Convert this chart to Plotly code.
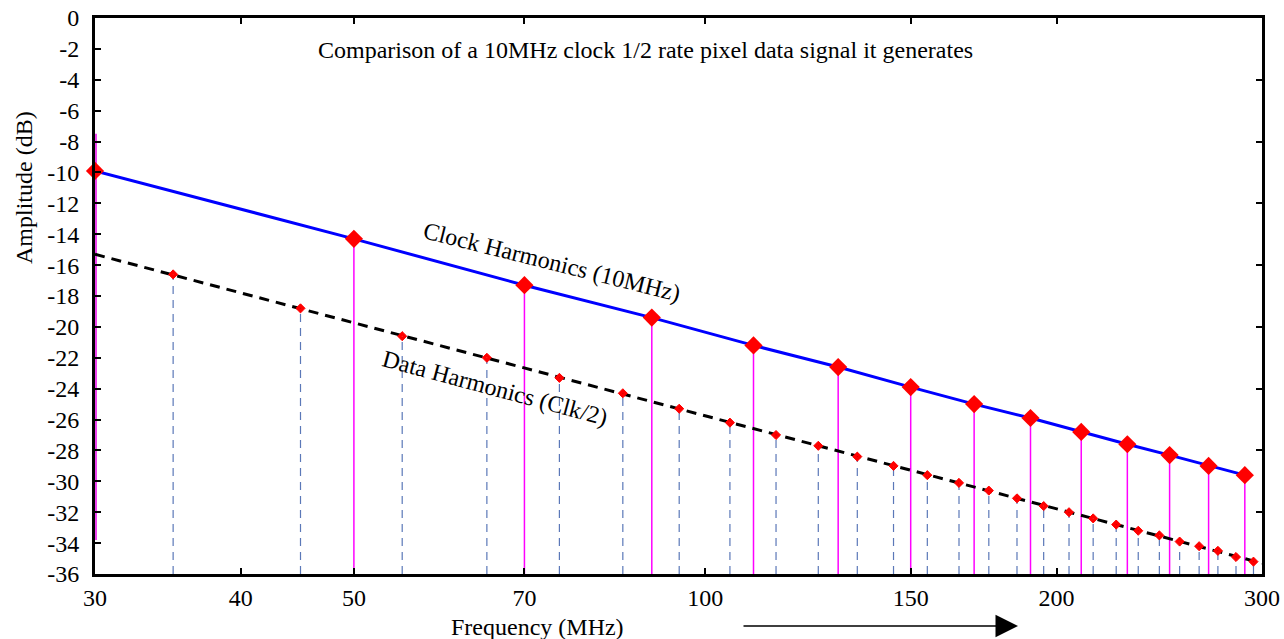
import plotly.graph_objects as go
import math

# ---- data ----
clock_freq = [30, 50, 70, 90, 110, 130, 150, 170, 190, 210, 230, 250, 270, 290]
clock_amp = [-9.9, -14.3, -17.3, -19.4, -21.2, -22.6, -23.9, -25.0, -25.9, -26.8, -27.6, -28.3, -29.0, -29.6]

data_freq = [35, 45, 55, 65, 75, 85, 95, 105, 115, 125, 135, 145, 155, 165, 175,
             185, 195, 205, 215, 225, 235, 245, 255, 265, 275, 285, 295]
data_amp = [-16.6, -18.8, -20.6, -22.0, -23.3, -24.3, -25.3, -26.2, -27.0, -27.7, -28.4,
            -29.0, -29.6, -30.1, -30.6, -31.1, -31.6, -32.0, -32.4, -32.8, -33.2, -33.5,
            -33.9, -34.2, -34.5, -34.9, -35.2]

data_line_freq = [30, 300]
data_line_amp = [-15.3, -35.3]

fund_stem_freq = [30, 30]
fund_stem_amp = [-7.5, -33.8]

floor_db = -36

x_tickvals = [30, 40, 50, 70, 100, 150, 200, 300]
x_ticktext = ["30", "40", "50", "70", "100", "150", "200", "300"]
y_tickvals = [0, -2, -4, -6, -8, -10, -12, -14, -16, -18, -20, -22, -24, -26, -28, -30, -32, -34, -36]
y_ticktext = ["0", "-2", "-4", "-6", "-8", "-10", "-12", "-14", "-16", "-18", "-20", "-22",
              "-24", "-26", "-28", "-30", "-32", "-34", "-36"]
y2_tickvals = [0, -4, -8, -12, -16, -20, -24, -28, -32, -36]

FONT = "Liberation Serif"

fig = go.Figure()

# blue dashed stems for data harmonics
sx, sy = [], []
for f, a in zip(data_freq, data_amp):
    sx += [f, f, None]
    sy += [floor_db, a, None]
fig.add_trace(go.Scatter(x=sx, y=sy, mode="lines",
                         line=dict(color="#5b78b8", width=1.2, dash="8px,6px"),
                         hoverinfo="skip", showlegend=False))

# magenta stems for clock harmonics
cx, cy = [], []
for f, a in zip(clock_freq[1:], clock_amp[1:]):
    cx += [f, f, None]
    cy += [floor_db, a, None]
fig.add_trace(go.Scatter(x=cx, y=cy, mode="lines",
                         line=dict(color="#ff00ff", width=1.5),
                         hoverinfo="skip", showlegend=False))

# fundamental stem at 30 MHz
fig.add_trace(go.Scatter(x=fund_stem_freq, y=fund_stem_amp, mode="lines",
                         line=dict(color="#ee44ee", width=4),
                         hoverinfo="skip", showlegend=False, cliponaxis=False))

# black dashed data envelope
fig.add_trace(go.Scatter(x=data_line_freq, y=data_line_amp, mode="lines",
                         line=dict(color="black", width=3, dash="10px,7px"),
                         hoverinfo="skip", showlegend=False))

# blue clock envelope
fig.add_trace(go.Scatter(x=clock_freq, y=clock_amp, mode="lines",
                         line=dict(color="#0000ff", width=3),
                         hoverinfo="skip", showlegend=False))

# data markers
fig.add_trace(go.Scatter(x=data_freq, y=data_amp, mode="markers",
                         marker=dict(symbol="diamond-dot", size=7, color="red",
                                     line=dict(color="red", width=1)),
                         showlegend=False, cliponaxis=False))

# clock markers
fig.add_trace(go.Scatter(x=clock_freq, y=clock_amp, mode="markers",
                         marker=dict(symbol="diamond", size=14, color="red",
                                     line=dict(width=0)),
                         showlegend=False, cliponaxis=False))

# helper trace for right axis ticks
fig.add_trace(go.Scatter(x=[30], y=[floor_db], yaxis="y2", mode="markers",
                         marker=dict(size=0.1, color="rgba(0,0,0,0)"),
                         hoverinfo="skip", showlegend=False))

def mid(text, x, y, size, angle=0):
    return dict(text=text, xref="paper", yref="paper",
                x=(x - 95) / 1167, y=(574 - y) / 556,
                xanchor="center", yanchor="middle", textangle=angle,
                showarrow=False, font=dict(family=FONT, size=size, color="black"))

fig.update_layout(
    width=1284, height=639,
    margin=dict(l=95, r=22, t=18, b=65),
    paper_bgcolor="white", plot_bgcolor="white",
    font=dict(family=FONT, size=22, color="black"),
    xaxis=dict(type="log", range=[math.log10(30), math.log10(300)],
               tickvals=x_tickvals, ticktext=x_ticktext,
               ticks="inside", ticklen=6, tickwidth=2, tickcolor="black",
               showline=True, linecolor="black", linewidth=3, mirror="ticks",
               showgrid=False, zeroline=False, automargin=False,
               tickfont=dict(family=FONT, size=24)),
    yaxis=dict(range=[-36, 0], tickvals=y_tickvals, ticktext=y_ticktext,
               ticks="inside", ticklen=6, tickwidth=2, tickcolor="black",
               showline=True, linecolor="black", linewidth=3, mirror=True,
               showgrid=False, zeroline=False, automargin=False,
               ticklabelstandoff=8,
               tickfont=dict(family=FONT, size=24)),
    yaxis2=dict(range=[-36, 0], tickvals=y2_tickvals, overlaying="y", side="right",
                ticks="inside", ticklen=6, tickwidth=2, tickcolor="black",
                showticklabels=False, showline=True, linecolor="black", linewidth=3,
                showgrid=False, zeroline=False, automargin=False),
    annotations=[
        mid("Comparison of a 10MHz clock 1/2 rate pixel data signal it generates", 645, 50, 24),
        mid("Clock Harmonics (10MHz)", 552, 262, 24, 14),
        mid("Data Harmonics (Clk/2)", 495, 388, 24, 15),
        mid("Amplitude (dB)", 24, 188, 24, -90),
        mid("Frequency (MHz)", 537, 627, 24),
        dict(text="", xref="paper", yref="paper",
             x=(1018 - 95) / 1167, y=(574 - 626) / 556,
             ax=-276, ay=0, showarrow=True, arrowhead=2, arrowsize=3,
             arrowwidth=1.5, arrowcolor="black"),
    ],
)

fig.write_html("out.html")
